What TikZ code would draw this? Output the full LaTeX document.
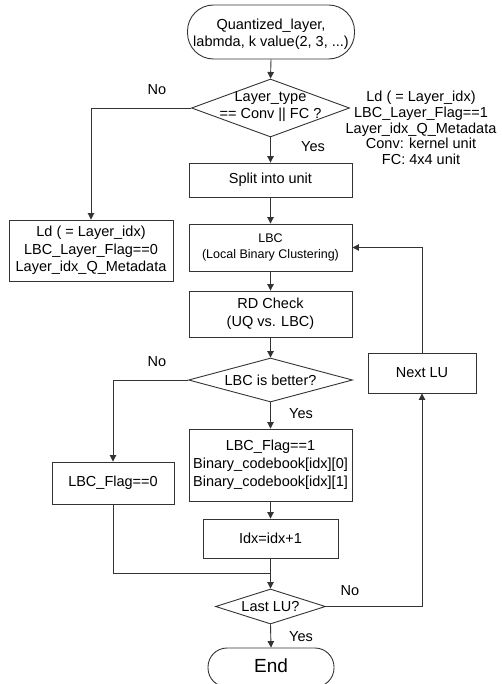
\documentclass[tikz,border=0pt]{standalone}
\usepackage{fontspec}
\setmainfont{Liberation Sans}
\usetikzlibrary{shapes.geometric,arrows.meta}
\definecolor{ink}{HTML}{333333}
\tikzset{
  every node/.style={font=\fontsize{14.5}{16}\selectfont, text=black},
  box/.style={draw=ink, line width=0.9pt, rectangle, inner sep=0pt, align=center},
  term/.style={draw=ink, line width=0.9pt, rectangle, rounded corners=#1, inner sep=0pt, align=center},
  decision/.style={draw=ink, line width=0.9pt, diamond, inner sep=0pt},
  lbl/.style={inner sep=0pt},
  flow/.style={draw=ink, line width=0.9pt, -{Triangle[length=6.5pt,width=6.5pt]}},
  plain/.style={draw=ink, line width=0.9pt},
}
\begin{document}
\begin{tikzpicture}[x=1pt,y=-1pt]
\useasboundingbox (0,0) rectangle (502,684);

% main column
\node[term=26pt, minimum width=167pt, minimum height=54pt] (start) at (271,32) {};
\node[lbl, align=center, font=\fontsize{14.5}{17}\selectfont] (startt) at (271,34.5)
  {Quantized\_layer,\\labmda, k value(2, 3, ...)};
\node[decision, minimum width=158pt, minimum height=58pt] (d1) at (270.5,108) {};
\node[lbl, align=center, font=\fontsize{14.5}{17}\selectfont] (d1t) at (270.5,107) {Layer\_type\\== Conv || FC ?};
\node[box, minimum width=163pt, minimum height=34pt] (split) at (270.5,180) {Split into unit};
\node[box, minimum width=163pt, minimum height=47pt, font=\fontsize{12.5}{15.5}\selectfont] (lbc) at (270.5,247.5)
  {LBC\\(Local Binary Clustering)};
\node[box, minimum width=163pt, minimum height=46pt, font=\fontsize{14.5}{18}\selectfont] (rd) at (270.5,314)
  {RD Check\\(UQ vs. LBC)};
\node[decision, minimum width=164pt, minimum height=44pt] (d2) at (270.5,380) {};
\node[lbl] (d2t) at (270.5,380) {LBC is better?};
\node[box, minimum width=163pt, minimum height=72pt, font=\fontsize{14.5}{18}\selectfont] (cb) at (270.5,465)
  {LBC\_Flag==1\\Binary\_codebook[idx][0]\\Binary\_codebook[idx][1]};
\node[box, minimum width=135pt, minimum height=39pt] (idx) at (270.5,538.5) {Idx=idx+1};
\node[decision, minimum width=110pt, minimum height=35pt] (d3) at (270.5,606.5) {};
\node[lbl] (d3t) at (270.5,606.5) {Last LU?};
\node[term=19pt, minimum width=126pt, minimum height=39pt] (end) at (271,667.5) {};
\node[lbl, font=\fontsize{19}{22}\selectfont] (endt) at (271,665.5) {End};

% side boxes
\node[box, minimum width=164pt, minimum height=61pt, font=\fontsize{14.5}{17.5}\selectfont] (ld) at (91,250.5)
  {Ld ( = Layer\_idx)\\LBC\_Layer\_Flag==0\\Layer\_idx\_Q\_Metadata};
\node[box, minimum width=122pt, minimum height=42pt] (flag0) at (113,483) {LBC\_Flag==0};
\node[box, minimum width=108pt, minimum height=40pt] (next) at (422,373) {Next LU};

% annotation beside the first decision
\node[lbl, align=center, font=\fontsize{14.5}{15.8}\selectfont] (note) at (421,128)
  {Ld ( = Layer\_idx)\\LBC\_Layer\_Flag==1\\Layer\_idx\_Q\_Metadata\\Conv: kernel unit\\FC: 4x4 unit};

% branch labels
\node[lbl] (no1) at (157,90) {No};
\node[lbl] (yes1) at (313,147) {Yes};
\node[lbl] (no2) at (157,362) {No};
\node[lbl] (yes2) at (301,414) {Yes};
\node[lbl] (no3) at (350,591) {No};
\node[lbl] (yes3) at (301,637) {Yes};

% connectors
\coordinate (join) at (270.5,573);
\draw[flow] (start.south) -- (d1.north);
\draw[flow] (d1.west) -| (ld.north);
\draw[flow] (d1.south) -- (split.north);
\draw[flow] (split.south) -- (lbc.north);
\draw[flow] (lbc.south) -- (rd.north);
\draw[flow] (rd.south) -- (d2.north);
\draw[flow] (d2.west) -| (flag0.north);
\draw[flow] (d2.south) -- (cb.north);
\draw[flow] (cb.south) -- (idx.north);
\draw[flow] (idx.south) -- (d3.north);
\draw[plain] (flag0.south) |- (join);
\draw[flow] (d3.east) -| (next.south);
\draw[flow] (next.north) |- (lbc.east);
\draw[flow] (d3.south) -- (end.north);
\end{tikzpicture}
\end{document}
